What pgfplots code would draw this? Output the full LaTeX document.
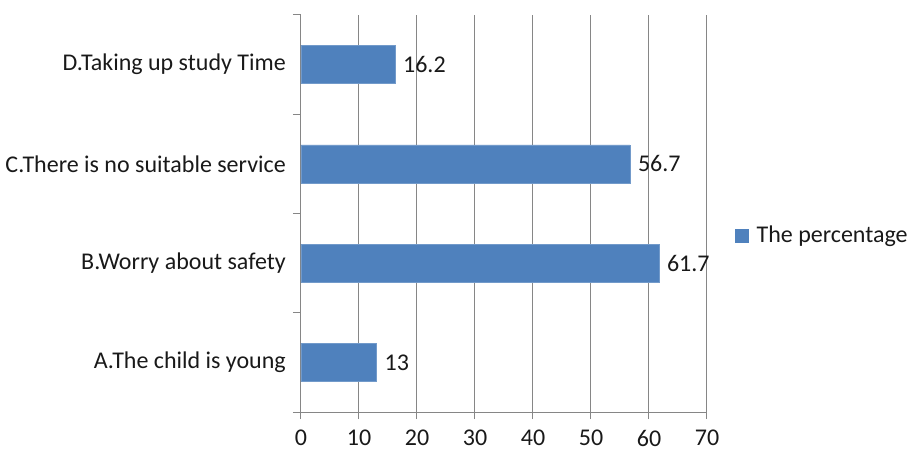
\documentclass[border=0pt]{standalone}
\usepackage{pgfplots}
\pgfplotsset{compat=1.18}
\usepackage{fontspec}
\setmainfont{Carlito}
\definecolor{axisgray}{HTML}{868686}
\definecolor{barblue}{HTML}{4F81BD}
\begin{document}
\fontsize{24bp}{29bp}\selectfont
\begin{tikzpicture}
\useasboundingbox (-301bp,-39bp) rectangle (606bp,412bp);
\begin{axis}[
  at={(0,0)}, anchor=south west,
  scale only axis, width=406bp, height=397bp,
  xmin=0, xmax=70, ymin=-0.5, ymax=3.5,
  axis lines=left, axis line style={draw=axisgray, line width=1bp, -},
  tick align=outside,
  xtick={0,10,...,70},
  xmajorgrids, grid style={axisgray, line width=1bp},
  major tick length=7bp, minor tick length=8bp,
  major x tick style={axisgray, line width=1bp},
  ytick={0,1,2,3},
  yticklabels={A.The child is young, B.Worry about safety, C.There is no suitable service, D.Taking up study Time},
  major y tick style={draw=none},
  minor ytick={-0.5,0.5,1.5,2.5,3.5},
  minor y tick style={axisgray, line width=1bp},
  yticklabel style={inner sep=0pt, xshift=-8bp, anchor=east},
  xticklabel style={inner sep=0pt, yshift=-11bp, anchor=north},
  /pgf/number format/assume math mode=true,
  tick label style={font=\fontsize{24bp}{29bp}\selectfont, text=black!90},
  xbar, bar width=38bp,
  nodes near coords,
  point meta=x,
  nodes near coords style={anchor=west, inner sep=0pt, xshift=8bp, font=\fontsize{24bp}{29bp}\selectfont, text=black!90},
  legend style={at={(1.069,0.443)}, anchor=west, draw=none, fill=none, font=\fontsize{24bp}{29bp}\selectfont, text=black!90, inner sep=0pt},
  legend image code/.code={\fill[barblue] (0bp,-6.5bp) rectangle (13bp,6.5bp); \path (19bp,0bp);},
  legend cell align=left,
  clip=false,
]
\addplot[fill=barblue, draw=barblue!80!white] coordinates {(13,0) (61.7,1) (56.7,2) (16.2,3)};
\addlegendentry{The percentage}
\end{axis}
\end{tikzpicture}
\end{document}
